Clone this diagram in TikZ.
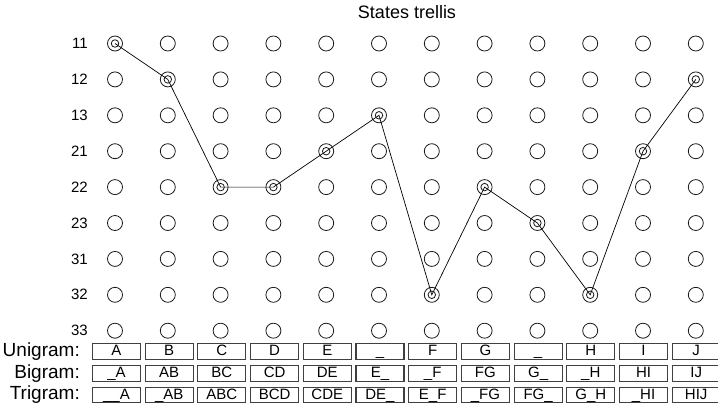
\documentclass[tikz,border=0pt]{standalone}
\usepackage{fontspec}
\setmainfont{Liberation Sans}
\usepackage{xcolor}
\usepackage{tikz}
\usetikzlibrary{positioning}

\begin{document}
\begin{tikzpicture}[x=1pt, y=-1pt,
    state/.style={circle, draw=black!90, line width=0.8pt, minimum size=15pt, inner sep=0pt},
    ring/.style={circle, draw=black!90, line width=0.8pt, minimum size=7.5pt, inner sep=0pt},
    rowlabel/.style={anchor=east, inner sep=0pt, font=\fontsize{15}{15}\selectfont},
    gramlabel/.style={anchor=east, inner sep=0pt, font=\fontsize{19}{19}\selectfont},
    gram/.style={rectangle, draw=black!75, line width=1.1pt, minimum width=48pt, minimum height=15.5pt,
        inner sep=0pt, text height=10.5pt, text depth=2.5pt, font=\fontsize{15}{15}\selectfont}]

    \useasboundingbox (0,0) rectangle (718,408);

    \node[font=\fontsize{18}{18}\selectfont] (title) at (407,12) {States trellis};

    \foreach \r [count=\k from 0] in {11,12,13,21,22,23,31,32,33} {
        \node[rowlabel] (lab-\r) at (88,43.5+35.9*\k) {\r};
        \foreach \c in {1,...,12}
            \node[state] (s-\c-\r) at (115+52.8*\c-52.8,43.5+35.9*\k) {};
    }

    \draw[line width=0.7pt] (s-1-11.center) -- (s-2-12.center) -- (s-3-22.center) -- (s-4-22.center)
        -- (s-5-21.center) -- (s-6-13.center) -- (s-7-32.center) -- (s-8-22.center)
        -- (s-9-23.center) -- (s-10-32.center) -- (s-11-21.center) -- (s-12-12.center);
    \foreach \c/\r in {1/11,2/12,3/22,4/22,5/21,6/13,7/32,8/22,9/23,10/32,11/21,12/12}
        \node[ring] (p-\c) at (s-\c-\r) {};

    \node[gramlabel] (uni) at (80,351.5) {Unigram:};
    \node[gramlabel] (bi) at (80,373.5) {Bigram:};
    \node[gramlabel] (tri) at (80,395) {Trigram:};

    \foreach \t [count=\c] in {A,B,C,D,E,\_,F,G,\_,H,I,J}
        \node[gram] (uni-\c) at (116.5+52.7*\c-52.7,351.5) {\t};
    \foreach \t [count=\c] in {\_A,AB,BC,CD,DE,E\_,\_F,FG,G\_,\_H,HI,IJ}
        \node[gram] (bi-\c) at (116.5+52.7*\c-52.7,373.5) {\t};
    \foreach \t [count=\c] in {\_\_A,\_AB,ABC,BCD,CDE,DE\_,E\_F,\_FG,FG\_,G\_H,\_HI,HIJ}
        \node[gram] (tri-\c) at (116.5+52.7*\c-52.7,395) {\t};

\end{tikzpicture}
\end{document}
